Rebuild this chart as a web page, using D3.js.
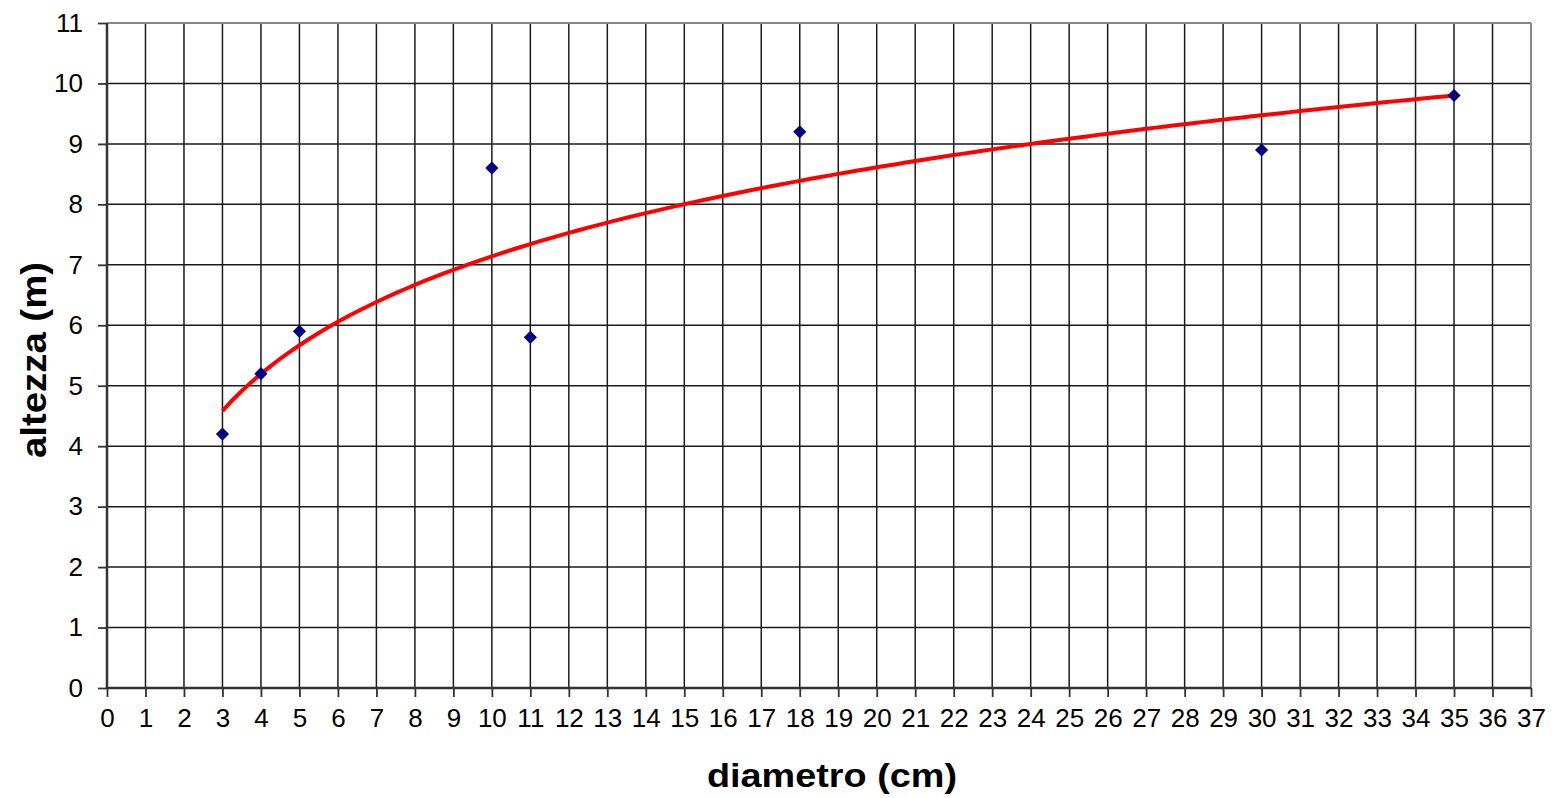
<!DOCTYPE html>
<html>
<head>
<meta charset="utf-8">
<script src="https://cdn.jsdelivr.net/npm/d3@7"></script>
<style>
  body { margin: 0; background: #fff; }
  svg text { font-family: "Liberation Sans", Arial, sans-serif; fill: #000; }
</style>
</head>
<body>
<svg id="chart"></svg>
<script>
var diametro = [3, 4, 5, 10, 11, 18, 30, 35];
var altezza = [4.2, 5.2, 5.9, 8.6, 5.8, 9.2, 8.9, 9.8];
var xTicks = d3.range(0, 38);
var yTicks = d3.range(0, 12);

var width = 1552, height = 798;
var margin = {top: 23, right: 21, bottom: 110, left: 107};

var svg = d3.select("#chart").attr("width", width).attr("height", height);

var x = d3.scaleLinear().domain([0, 37]).range([margin.left, width - margin.right]);
var y = d3.scaleLinear().domain([0, 11]).range([height - margin.bottom, margin.top]);

// linee della griglia
var grid = svg.append("g");
grid.selectAll(".vg").data(xTicks.slice(1, -1)).enter().append("line")
  .attr("x1", d => x(d)).attr("x2", d => x(d))
  .attr("y1", y(0)).attr("y2", y(11))
  .attr("stroke", "#1a1a1a").attr("stroke-width", 1.5);
grid.selectAll(".hg").data(yTicks.slice(1, -1)).enter().append("line")
  .attr("x1", x(0)).attr("x2", x(37))
  .attr("y1", d => y(d)).attr("y2", d => y(d))
  .attr("stroke", "#1a1a1a").attr("stroke-width", 1.5);

// bordo superiore e destro
svg.append("line").attr("x1", x(0)).attr("x2", x(37)).attr("y1", y(11)).attr("y2", y(11))
  .attr("stroke", "#888").attr("stroke-width", 2);
svg.append("line").attr("x1", x(37)).attr("x2", x(37)).attr("y1", y(11)).attr("y2", y(0))
  .attr("stroke", "#888").attr("stroke-width", 2);

// assi
var xAxis = svg.append("g")
  .attr("transform", "translate(0," + y(0) + ")")
  .call(d3.axisBottom(x).tickValues(xTicks).tickSize(9).tickPadding(12).tickFormat(d3.format("d")));
var yAxis = svg.append("g")
  .attr("transform", "translate(" + x(0) + ",0)")
  .call(d3.axisLeft(y).tickValues(yTicks).tickSize(9).tickPadding(15).tickFormat(d3.format("d")));

[xAxis, yAxis].forEach(function(a) {
  a.select(".domain").attr("stroke", "#333").attr("stroke-width", 2.5);
  a.selectAll(".tick line").attr("stroke", "#333").attr("stroke-width", 1.8);
  a.selectAll(".tick text").style("font-size", "26px").attr("fill", "#000");
});
xAxis.select(".domain").attr("d", "M" + x(0) + ",0H" + x(37));
yAxis.select(".domain").attr("d", "M0," + y(0) + "V" + y(11));

// linea di tendenza logaritmica (minimi quadrati sui dati)
var lx = diametro.map(Math.log);
var mx = d3.mean(lx), my = d3.mean(altezza);
var sxy = d3.sum(lx, (v, i) => (v - mx) * (altezza[i] - my));
var sxx = d3.sum(lx, v => (v - mx) * (v - mx));
var a = sxy / sxx, b = my - a * mx;
var trend = d3.range(3, 35.01, 0.25).map(d => [d, a * Math.log(d) + b]);

svg.append("path")
  .datum(trend)
  .attr("fill", "none")
  .attr("stroke", "#ff0000")
  .attr("stroke-width", 4)
  .attr("d", d3.line().x(d => x(d[0])).y(d => y(d[1])));

// punti
svg.selectAll(".pt").data(diametro).enter().append("path")
  .attr("transform", (d, i) => "translate(" + x(d) + "," + y(altezza[i]) + ")")
  .attr("d", d3.symbol().type(d3.symbolDiamond2).size(110))
  .attr("fill", "#000080");

// titoli
svg.append("text")
  .attr("x", 832).attr("y", 787)
  .attr("text-anchor", "middle")
  .attr("textLength", 250).attr("lengthAdjust", "spacingAndGlyphs")
  .style("font-size", "34px").style("font-weight", "bold")
  .text("diametro (cm)");
svg.append("text")
  .attr("transform", "translate(46,360) rotate(-90)")
  .attr("text-anchor", "middle")
  .attr("textLength", 196).attr("lengthAdjust", "spacingAndGlyphs")
  .style("font-size", "35px").style("font-weight", "bold")
  .text("altezza (m)");
</script>
</body>
</html>
